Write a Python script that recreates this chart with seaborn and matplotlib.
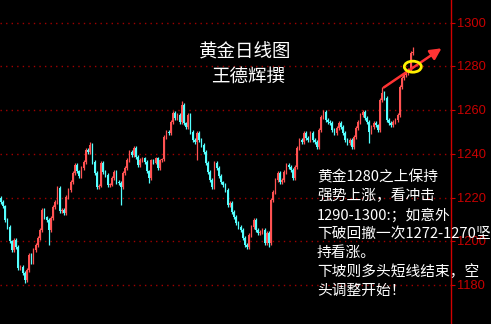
import matplotlib
matplotlib.use("Agg")
import matplotlib.pyplot as plt
from matplotlib.patches import Ellipse
from matplotlib.transforms import ScaledTranslation
import numpy as np
import pandas as pd
import seaborn as sns

# ---------------- data ----------------
closes = [
    1218, 1216, 1209.7, 1206.5, 1200, 1196, 1200.6, 1197.4, 1187.8, 1188.2,
    1185.5, 1182.3, 1186.8, 1193.7, 1190.5, 1196, 1198.3, 1201.5, 1205.1, 1214.3,
    1211, 1209.7, 1205, 1210.6, 1215.7, 1218, 1224.4, 1214, 1214.5, 1212.9,
    1220.2, 1223.4, 1227.1, 1231.2, 1234.9, 1232, 1230, 1233.5, 1236.3, 1241.7,
    1240.8, 1244, 1236.3, 1231.2, 1224.8, 1225.5, 1236, 1231.7, 1230.3, 1225.7,
    1226, 1229, 1231.7, 1227.1, 1226.7, 1224.8, 1231.2, 1233.5, 1237.2, 1240.8,
    1239.5, 1242.7, 1238.5, 1234.9, 1237.2, 1238, 1236.3, 1232, 1229, 1237,
    1236, 1238, 1233.5, 1237, 1237.5, 1247.7, 1250, 1249.5, 1254.6, 1258.7,
    1256.4, 1257.8, 1254.6, 1262.3, 1254, 1252.3, 1257.8, 1250, 1246.3, 1245.4,
    1249.5, 1246.3, 1244, 1240.8, 1235.8, 1231.7, 1228, 1224.8, 1235.8, 1233.5,
    1230, 1227, 1225.7, 1223.4, 1216.6, 1217.5, 1213.4, 1211.1, 1208.3, 1206.5,
    1205.1, 1201.5, 1198.3, 1197.4, 1202.9, 1206.5, 1209.7, 1205.1, 1203.8, 1204.2,
    1205.1, 1199.2, 1203.8, 1199.2, 1218.9, 1222.5, 1228, 1231.2, 1227.1, 1228,
    1231.7, 1234.9, 1234, 1232.6, 1229, 1234, 1242.7, 1246.3, 1245.4, 1249.5,
    1247.3, 1246.3, 1249.5, 1246.3, 1245.4, 1243.1, 1250.9, 1256.9, 1259.1, 1255.5,
    1254.6, 1254.1, 1250.9, 1249.5, 1251.8, 1254.1, 1252.3, 1249.5, 1246.3, 1245,
    1246.3, 1243, 1247.7, 1251.8, 1254.6, 1257.8, 1259.1, 1256.4, 1254.6, 1250,
    1252.3, 1254.1, 1253, 1250.9, 1264.6, 1267.8, 1265.5, 1255.5, 1254.1, 1253.2,
    1254.6, 1255.5, 1257.8, 1270.6, 1274.7, 1276.1, 1277, 1278.4, 1286.1, 1286.6,
]
first_open = 1220.0
wick_pad = 0.8
high_override = {41: 1245.5, 83: 1264.0, 175: 1270.8, 189: 1289.0}
low_override = {11: 1180.8, 22: 1198.3, 55: 1216.6, 68: 1226.7, 90: 1237.0,
                123: 1197.4, 169: 1245.0}

yticks = [1180, 1200, 1220, 1240, 1260, 1280, 1300]
ytick_labels = [str(v) for v in yticks]

title_lines = ["黄金日线图", "王德辉撰"]
note_lines = [
    "黄金1280之上保持",
    "强势上涨，看冲击",
    "1290-1300:；如意外",
    "下破回撤一次1272-1270坚",
    "持看涨。",
    "下坡则多头短线结束，空",
    "头调整开始！",
]

# arrow & ellipse (in price units)
arrow_start_price = 1270.4
arrow_end_price = 1288.3
ellipse_price = 1279.9

# ---------------- build table ----------------
n = len(closes)
opens = [first_open] + closes[:-1]
df = pd.DataFrame({"i": np.arange(n), "open": opens, "close": closes})
df["high"] = df[["open", "close"]].max(axis=1) + wick_pad
df["low"] = df[["open", "close"]].min(axis=1) - wick_pad
for k, v in high_override.items():
    df.loc[k, "high"] = max(df.loc[k, "high"], v)
for k, v in low_override.items():
    df.loc[k, "low"] = min(df.loc[k, "low"], v)
df["up"] = df["close"] >= df["open"]

# ---------------- style ----------------
sns.set_theme(style="dark", rc={
    "axes.facecolor": "black", "figure.facecolor": "black",
    "axes.edgecolor": "#D00000", "savefig.facecolor": "black",
})
plt.rcParams["font.family"] = ["Noto Sans CJK SC", "DejaVu Sans"]

W, H = 491, 324
fig = plt.figure(figsize=(W / 100, H / 100), dpi=100)
axw = 451
ax = fig.add_axes([0, 0, axw / W, 1])
ax.set_facecolor("black")

px_per_idx = 412 / (n - 1)
ax.set_xlim(-0.8 / px_per_idx, (axw - 0.8) / px_per_idx)
ax.set_ylim(1162.2, 1310.4)

UP = "#FF5252"
DN = "#54FFFF"
colors = np.where(df["up"], UP, DN)

# wicks
ax.vlines(df["i"], df["low"], df["high"], colors=colors, linewidth=0.9, zorder=3)
# bodies
body_bottom = df[["open", "close"]].min(axis=1)
body_h = (df["close"] - df["open"]).abs().clip(lower=0.35)
ax.bar(df["i"], body_h, bottom=body_bottom, width=0.75, color=colors,
       linewidth=0, zorder=4)

# grid
for v in yticks:
    ax.axhline(v, color="#A00000", linestyle=(0, (1, 3)), linewidth=1.0, zorder=1)
ax.grid(False)

# axis
for s in ["top", "left", "bottom"]:
    ax.spines[s].set_visible(False)
ax.spines["right"].set_color("#D00000")
ax.spines["right"].set_linewidth(1.0)
ax.set_xticks([])
ax.yaxis.tick_right()
ax.set_yticks(yticks)
ax.set_yticklabels(ytick_labels)
ax.tick_params(axis="y", colors="#D00000", length=3, width=0.8, pad=1,
               labelsize=9.3, labelcolor="#C80000", direction="out")
for lab in ax.get_yticklabels():
    lab.set_fontfamily(["Liberation Sans", "DejaVu Sans"])
    lab.set_verticalalignment("top")
for lab in ax.get_yticklabels():
    lab.set_transform(lab.get_transform() + ScaledTranslation(0, 5 / 100, fig.dpi_scale_trans))

# arrow
x0 = 383 / px_per_idx
x1 = 440.7 / px_per_idx
ax.annotate("", xy=(x1, arrow_end_price), xytext=(x0, arrow_start_price),
            arrowprops=dict(arrowstyle="-|>,head_length=0.55,head_width=0.28",
                            color="#FF3333", lw=1.8, shrinkA=0, shrinkB=0),
            zorder=6, annotation_clip=False)

# ellipse
ell = Ellipse((412 / px_per_idx, ellipse_price), width=17 / px_per_idx,
              height=11 / 2.185, fill=False, edgecolor="#FFF000", linewidth=2.0,
              zorder=7)
ax.add_patch(ell)

# titles
fig.text(245 / W, 1 - 53 / H, title_lines[0], color="white", fontsize=13.3,
         ha="center", va="center")
fig.text(248 / W, 1 - 77 / H, title_lines[1], color="white", fontsize=13.3,
         ha="center", va="center")

# note
for k, line in enumerate(note_lines):
    fig.text(317 / W, 1 - (177 + 19 * k) / H, line, color="white",
             fontsize=10.6, ha="left", va="center", zorder=10)

fig.savefig("out.png", dpi=100, facecolor="black")
